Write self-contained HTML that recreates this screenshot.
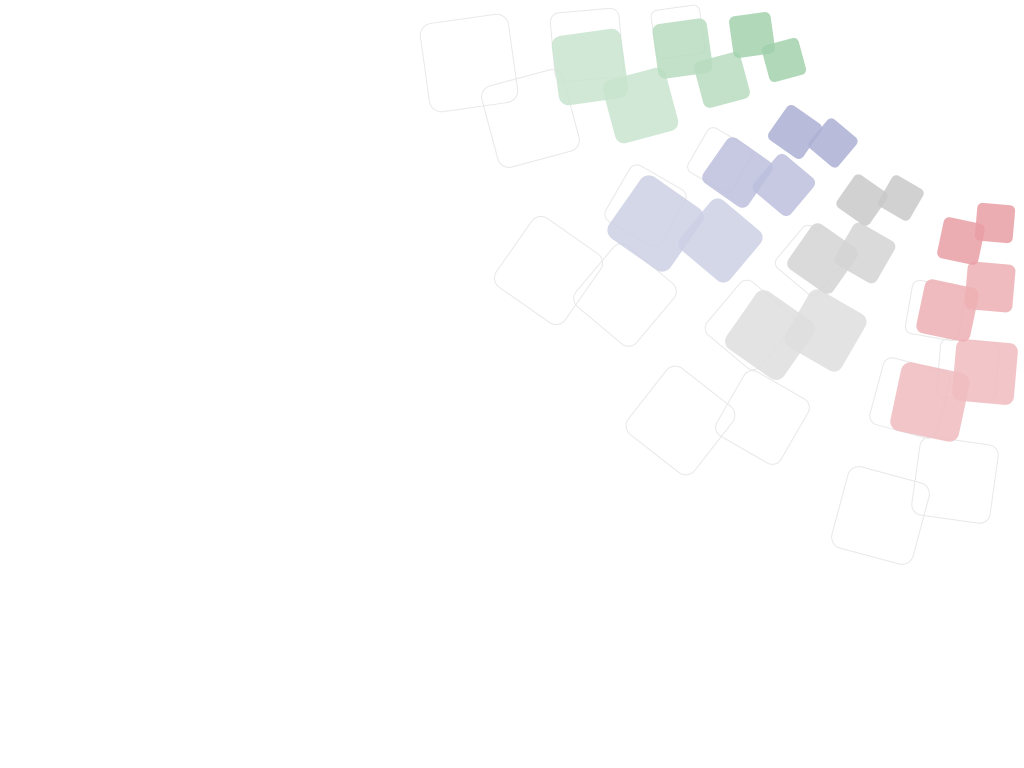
<!DOCTYPE html>
<html><head><meta charset="utf-8">
<style>
html,body{margin:0;padding:0;background:#fff;width:1024px;height:768px;overflow:hidden;font-family:"Liberation Sans",sans-serif;}
#stage{position:absolute;left:0;top:0;width:1024px;height:768px;}
.sq{position:absolute;box-sizing:border-box;border-radius:14%;}
</style></head>
<body>
<div id="stage"></div>
<script>
// outline squares: centerX, centerY, size, rotation
const outlineX = [469,530,587,678,548,625,645,680,762,750,720,810,880,955,910,935,968];
const outlineY = [63,118,45,32,270,295,205,420,417,325,160,260,515,480,398,310,370];
const outlineS = [90,85,70,50,85,80,65,85,75,70,52,55,85,80,70,55,60];
const outlineR = [-8,-15,-5,-8,35,40,30,38,30,40,30,40,15,8,15,10,5];
// filled squares
const fillX = [590,640,682,722,752,784, 655,720,737,784,795,833, 770,825,822,865,862,901, 930,985,947,990,961,995];
const fillY = [67,105,48,80,35,60, 223,240,172,185,132,143, 335,330,258,253,200,198, 402,372,310,287,241,223];
const fillS = [70,65,55,48,42,38, 75,65,55,48,42,38, 70,65,55,48,40,36, 70,62,55,48,42,38];
const fillR = [-8,-15,-8,-15,-8,-15, 35,40,35,40,35,40, 35,30,35,30,35,30, 12,5,12,5,12,5];
const fillC = ['#c8e4ce','#c8e4ce','#b8dcc0','#b8dcc0','#a2d1ad','#a2d1ad',
               '#cdd0e4','#cdd0e4','#bcc0dc','#bcc0dc','#acb0d3','#acb0d3',
               '#dedede','#dedede','#d3d3d3','#d3d3d3','#c9c9c9','#c9c9c9',
               '#f0bcc0','#f0bcc0','#edafb3','#edafb3','#e99fa4','#e99fa4'];
const stage = document.getElementById('stage');
for (let i = 0; i < outlineX.length; i++) {
  const el = document.createElement('div');
  el.className = 'sq';
  
  
  const s = outlineS[i];
  el.style.left = (outlineX[i] - s/2) + 'px';
  el.style.top = (outlineY[i] - s/2) + 'px';
  el.style.width = s + 'px';
  el.style.height = s + 'px';
  el.style.border = '1.5px solid #e8e8e8';
  el.style.transform = 'rotate(' + outlineR[i] + 'deg)';
  stage.appendChild(el);
}
for (let i = 0; i < fillX.length; i++) {
  const el = document.createElement('div');
  el.className = 'sq';
  
  
  const s = fillS[i];
  el.style.left = (fillX[i] - s/2) + 'px';
  el.style.top = (fillY[i] - s/2) + 'px';
  el.style.width = s + 'px';
  el.style.height = s + 'px';
  el.style.background = fillC[i];
  el.style.opacity = '0.85';
  el.style.transform = 'rotate(' + fillR[i] + 'deg)';
  stage.appendChild(el);
}
</script>
</body></html>
